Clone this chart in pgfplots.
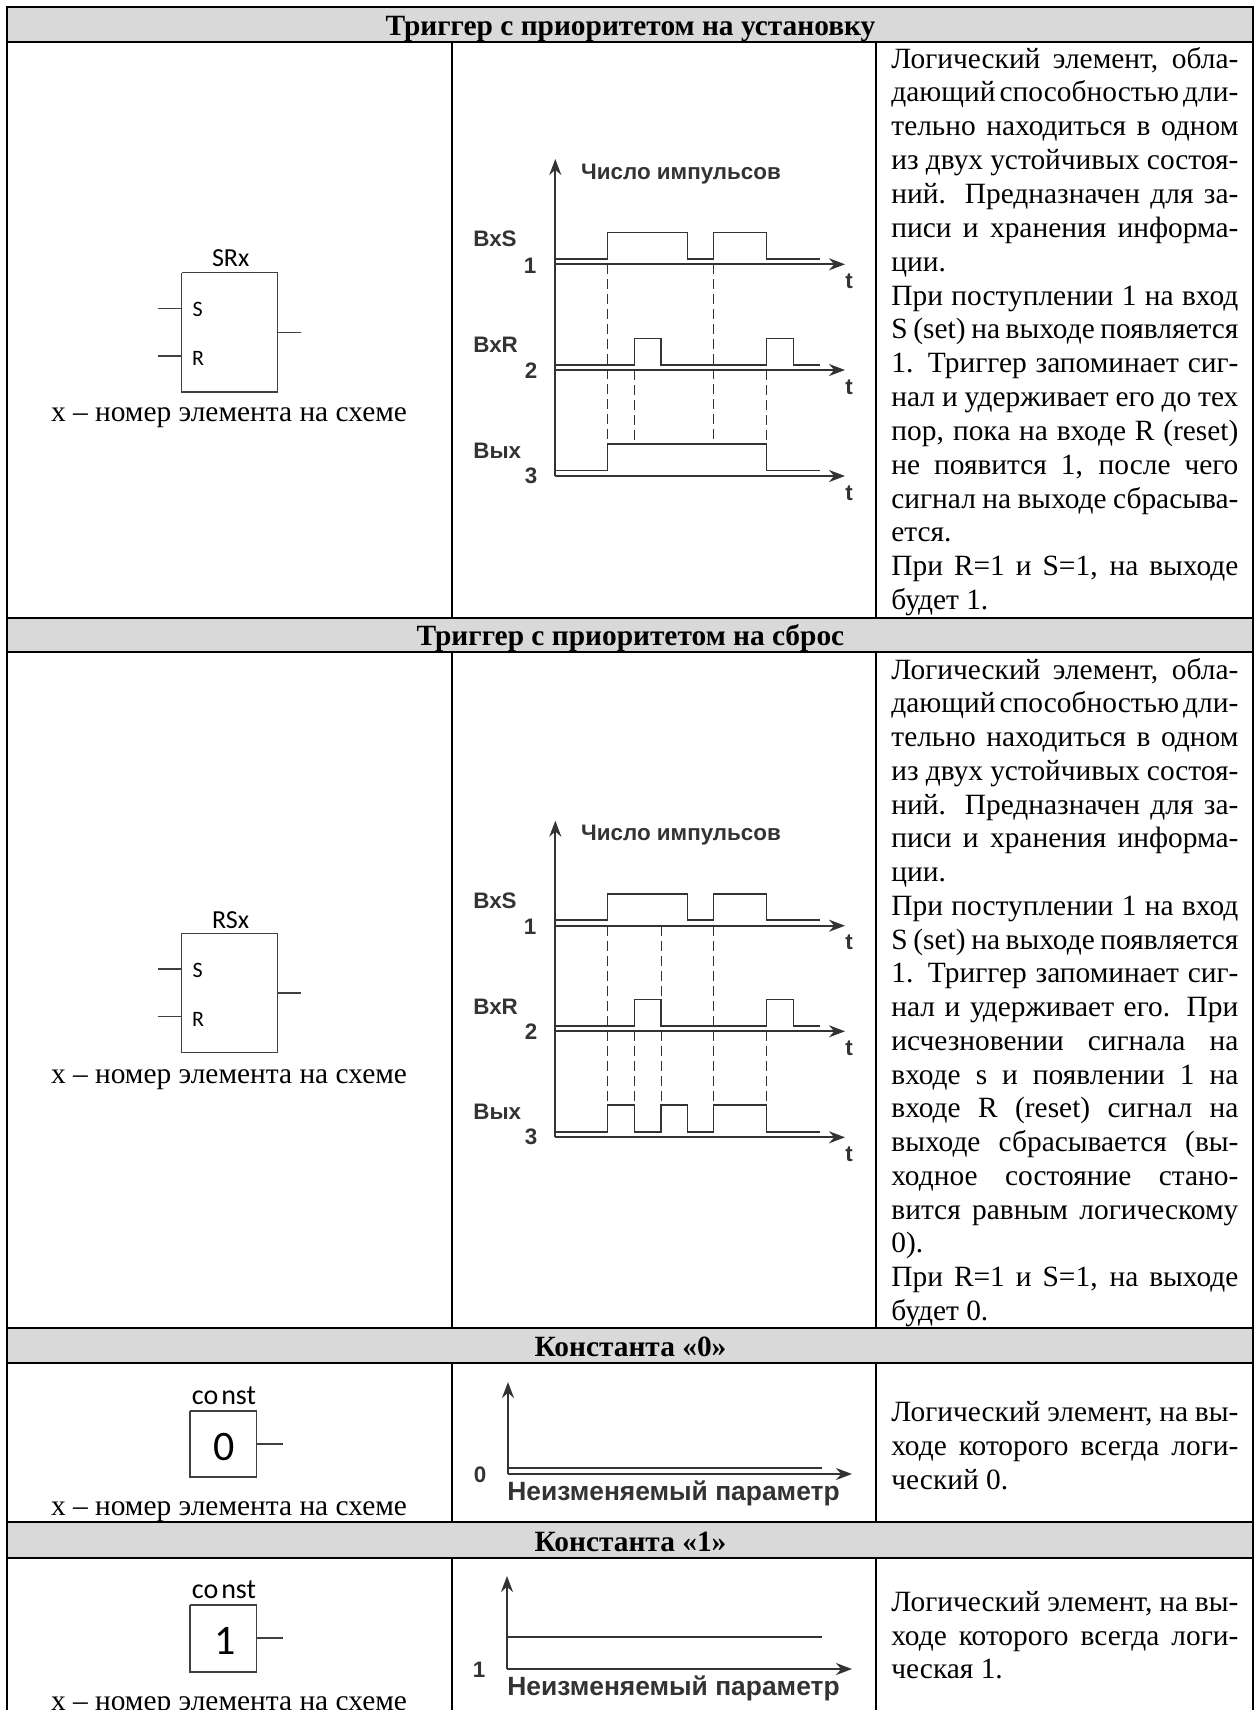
\documentclass[border=0pt]{standalone}
\usepackage{fontspec}
\setmainfont{Liberation Serif}
\newfontfamily\arialf{Liberation Sans}
\newfontfamily\calibrif{Carlito}
\usepackage{pgfplots}
\pgfplotsset{compat=1.18}
\usetikzlibrary{arrows.meta}
\definecolor{hdr}{HTML}{D9D9D9}
\definecolor{dia}{HTML}{333333}
\newcommand{\bodyf}{\fontsize{14.7pt}{16pt}\selectfont\spaceskip=0.25em plus 1fil minus 0.12em\relax}
\newcommand{\hdrf}{\fontsize{14.7pt}{16pt}\selectfont\bfseries}
\newcommand{\J}[2]{\node[anchor=base west,inner sep=0pt,font=\bodyf] at (axis cs:891,#1) {\makebox[173.5pt][s]{#2}};}
\newcommand{\Ln}[2]{\node[anchor=base west,inner sep=0pt,font=\bodyf] at (axis cs:891,#1) {#2};}
\newcommand{\Hd}[2]{\node[anchor=base,inner sep=0pt,font=\hdrf] at (axis cs:630.5,#1) {#2};}
\newcommand{\Ar}[4]{\node[anchor=#4,inner sep=0pt,text=dia,font=\fontsize{11.2pt}{13pt}\selectfont\arialf\bfseries] at (axis cs:#1,#2) {#3};}
\begin{document}
\begin{tikzpicture}
\begin{axis}[
  at={(0,0)}, anchor=south west,
  scale only axis, width=629.5pt, height=855pt,
  xmin=0, xmax=1259, ymin=0, ymax=1710, y dir=reverse,
  hide axis, clip=false,
  tbl/.style={black, line width=1.1pt, line cap=rect, no markers, forget plot},
  box/.style={color=black!75, line width=0.55pt, no markers, forget plot},
  sig/.style={color=dia, line width=0.7pt, no markers, forget plot, line join=miter},
  ax/.style={color=dia, line width=0.95pt, no markers, forget plot, -{Stealth[length=8pt,width=6pt]}},
  dsh/.style={color=dia, line width=0.35pt, no markers, forget plot, dash pattern=on 5pt off 2.5pt},
  hfill/.style={draw=none, fill=hdr, no markers, forget plot},
]
% header fills
\addplot[hfill] coordinates {(7,7) (1253,7) (1253,42) (7,42)} -- cycle;
\addplot[hfill] coordinates {(7,618) (1253,618) (1253,652) (7,652)} -- cycle;
\addplot[hfill] coordinates {(7,1328) (1253,1328) (1253,1363) (7,1363)} -- cycle;
\addplot[hfill] coordinates {(7,1522) (1253,1522) (1253,1558) (7,1558)} -- cycle;
% table rules
\addplot[tbl] coordinates {(7,7) (1253,7)};
\addplot[tbl] coordinates {(7,42) (1253,42)};
\addplot[tbl] coordinates {(7,618) (1253,618)};
\addplot[tbl] coordinates {(7,652) (1253,652)};
\addplot[tbl] coordinates {(7,1328) (1253,1328)};
\addplot[tbl] coordinates {(7,1363) (1253,1363)};
\addplot[tbl] coordinates {(7,1522) (1253,1522)};
\addplot[tbl] coordinates {(7,1558) (1253,1558)};
\addplot[tbl] coordinates {(7,7) (7,1712)};
\addplot[tbl] coordinates {(1253,7) (1253,1712)};
\addplot[tbl] coordinates {(452,42) (452,618)};
\addplot[tbl] coordinates {(876,42) (876,618)};
\addplot[tbl] coordinates {(452,652) (452,1328)};
\addplot[tbl] coordinates {(876,652) (876,1328)};
\addplot[tbl] coordinates {(452,1363) (452,1522)};
\addplot[tbl] coordinates {(876,1363) (876,1522)};
\addplot[tbl] coordinates {(452,1558) (452,1712)};
\addplot[tbl] coordinates {(876,1558) (876,1712)};
% SR block
\addplot[box] coordinates {(181.7,272.7) (277.3,272.7) (277.3,392) (181.7,392) (181.7,272.7)};
\addplot[box] coordinates {(158,308.3) (181.7,308.3)};
\addplot[box] coordinates {(158,356) (181.7,356)};
\addplot[box] coordinates {(277.3,332.3) (301,332.3)};
% RS block
\addplot[box] coordinates {(181.7,933.3) (277.3,933.3) (277.3,1052.3) (181.7,1052.3) (181.7,933.3)};
\addplot[box] coordinates {(158,969) (181.7,969)};
\addplot[box] coordinates {(158,1016.7) (181.7,1016.7)};
\addplot[box] coordinates {(277.3,993) (301,993)};
% const blocks
\addplot[box] coordinates {(190,1411) (256.5,1411) (256.5,1477) (190,1477) (190,1411)};
\addplot[box] coordinates {(256.5,1444) (283,1444)};
\addplot[box] coordinates {(190,1605) (256.5,1605) (256.5,1672) (190,1672) (190,1605)};
\addplot[box] coordinates {(256.5,1638) (283,1638)};
% timing diagram 1
\addplot[ax] coordinates {(555.3,476) (555.3,159)};
\addplot[ax] coordinates {(555.3,264.3) (845,264.3)};
\addplot[ax] coordinates {(555.3,370) (845,370)};
\addplot[ax] coordinates {(555.3,476) (845,476)};
\addplot[sig] coordinates {(555.3,259) (607.7,259) (607.7,232.7) (687.3,232.7) (687.3,259) (713.7,259) (713.7,232.7) (766.7,232.7) (766.7,259) (820,259)};
\addplot[sig] coordinates {(555.3,365) (634.3,365) (634.3,338.3) (661,338.3) (661,365) (766.7,365) (766.7,338.3) (793.3,338.3) (793.3,365) (820,365)};
\addplot[sig] coordinates {(555.3,470.7) (607.7,470.7) (607.7,444) (766.7,444) (766.7,470.7) (820,470.7)};
\addplot[dsh] coordinates {(607.7,264) (607.7,444)};
\addplot[dsh] coordinates {(634.3,370) (634.3,444)};
\addplot[dsh] coordinates {(713.7,264) (713.7,444)};
\addplot[dsh] coordinates {(766.7,370) (766.7,444)};
% timing diagram 2
\addplot[ax] coordinates {(555.3,1137.3) (555.3,820.7)};
\addplot[ax] coordinates {(555.3,925.7) (845,925.7)};
\addplot[ax] coordinates {(555.3,1031.3) (845,1031.3)};
\addplot[ax] coordinates {(555.3,1137.3) (845,1137.3)};
\addplot[sig] coordinates {(555.3,920) (607.7,920) (607.7,894) (687.3,894) (687.3,920) (713.7,920) (713.7,894) (766.7,894) (766.7,920) (820,920)};
\addplot[sig] coordinates {(555.3,1026) (634.3,1026) (634.3,999.3) (661,999.3) (661,1026) (766.7,1026) (766.7,999.3) (793.3,999.3) (793.3,1026) (820,1026)};
\addplot[sig] coordinates {(555.3,1132) (607.7,1132) (607.7,1105) (634.3,1105) (634.3,1132) (661,1132) (661,1105) (687.3,1105) (687.3,1132) (713.7,1132) (713.7,1105) (766.7,1105) (766.7,1132) (820,1132)};
\addplot[dsh] coordinates {(607.7,925.7) (607.7,1105)};
\addplot[dsh] coordinates {(634.3,1031.3) (634.3,1105)};
\addplot[dsh] coordinates {(661,925.7) (661,1105)};
\addplot[dsh] coordinates {(713.7,925.7) (713.7,1105)};
\addplot[dsh] coordinates {(766.7,1031.3) (766.7,1105)};
% constant diagrams
\addplot[ax] coordinates {(508,1474) (508,1382)};
\addplot[ax] coordinates {(508,1474) (852,1474)};
\addplot[sig] coordinates {(508,1468) (822,1468)};
\addplot[ax] coordinates {(507,1669) (507,1576)};
\addplot[ax] coordinates {(507,1669) (852,1669)};
\addplot[sig] coordinates {(507,1637) (822,1637)};
% headers
\Hd{35}{Триггер с приоритетом на установку}
\Hd{645}{Триггер с приоритетом на сброс}
\Hd{1356}{Константа «0»}
\Hd{1551}{Константа «1»}
% captions
\node[anchor=base,inner sep=0pt,font=\bodyf] at (axis cs:229,421) {x – номер элемента на схеме};
\node[anchor=base,inner sep=0pt,font=\bodyf] at (axis cs:229,1083) {x – номер элемента на схеме};
\node[anchor=base,inner sep=0pt,font=\bodyf] at (axis cs:229,1515) {x – номер элемента на схеме};
\node[anchor=base,inner sep=0pt,font=\bodyf] at (axis cs:229,1710) {x – номер элемента на схеме};
% block labels
\node[inner sep=0pt,font=\fontsize{13pt}{15pt}\selectfont\calibrif] at (axis cs:230.7,258) {SRx};
\node[inner sep=0pt,font=\fontsize{11pt}{13pt}\selectfont\calibrif] at (axis cs:197.7,309.3) {S};
\node[inner sep=0pt,font=\fontsize{11pt}{13pt}\selectfont\calibrif] at (axis cs:198,358) {R};
\node[inner sep=0pt,font=\fontsize{13pt}{15pt}\selectfont\calibrif] at (axis cs:230.7,920) {RSx};
\node[inner sep=0pt,font=\fontsize{11pt}{13pt}\selectfont\calibrif] at (axis cs:197.7,970) {S};
\node[inner sep=0pt,font=\fontsize{11pt}{13pt}\selectfont\calibrif] at (axis cs:198,1019.3) {R};
\node[inner sep=0pt,font=\fontsize{14pt}{16pt}\selectfont\calibrif] at (axis cs:224,1396) {co\hspace{1.5pt}nst};
\node[inner sep=0pt,font=\fontsize{14pt}{16pt}\selectfont\calibrif] at (axis cs:224,1590) {co\hspace{1.5pt}nst};
\node[inner sep=0pt,font=\fontsize{21pt}{23pt}\selectfont\calibrif] at (axis cs:224.5,1447) {0};
\node[inner sep=0pt,font=\fontsize{21pt}{23pt}\selectfont\calibrif] at (axis cs:225,1641) {1};
% diagram labels 1
\Ar{580.7}{174}{Число импульсов}{west}
\Ar{473}{239}{ВхS}{west}
\Ar{530}{266}{1}{center}
\Ar{473}{345}{ВхR}{west}
\Ar{531}{370.7}{2}{center}
\Ar{473}{451}{Вых}{west}
\Ar{531}{476}{3}{center}
\Ar{849}{281}{t}{center}
\Ar{849}{387}{t}{center}
\Ar{849}{493}{t}{center}
% diagram labels 2
\Ar{580.7}{835}{Число импульсов}{west}
\Ar{473}{900.7}{ВхS}{west}
\Ar{530}{927}{1}{center}
\Ar{473}{1006.7}{ВхR}{west}
\Ar{531}{1032}{2}{center}
\Ar{473}{1112}{Вых}{west}
\Ar{531}{1137}{3}{center}
\Ar{849}{942}{t}{center}
\Ar{849}{1048}{t}{center}
\Ar{849}{1154}{t}{center}
% constant labels
\node[inner sep=0pt,text=dia,font=\fontsize{13.2pt}{15pt}\selectfont\arialf\bfseries] at (axis cs:673.5,1493) {Неизменяемый параметр};
\node[inner sep=0pt,text=dia,font=\fontsize{13.2pt}{15pt}\selectfont\arialf\bfseries] at (axis cs:673.5,1688) {Неизменяемый параметр};
\Ar{480}{1475}{0}{center}
\Ar{479}{1670}{1}{center}
% text row 1
\J{68}{Логический элемент, обла-}
\J{101.9}{дающий способностью дли-}
\J{135.7}{тельно находиться в одном}
\J{169.6}{из двух устойчивых состоя-}
\J{203.4}{ний. Предназначен для за-}
\J{237.3}{писи и хранения информа-}
\Ln{271.1}{ции.}
\J{305}{При поступлении 1 на вход}
\J{338.8}{S (set) на выходе появляется}
\J{372.7}{1. Триггер запоминает сиг-}
\J{406.5}{нал и удерживает его до тех}
\J{440.4}{пор, пока на входе R (reset)}
\J{474.2}{не появится 1, после чего}
\J{508.1}{сигнал на выходе сбрасыва-}
\Ln{541.9}{ется.}
\J{575.8}{При R=1 и S=1, на выходе}
\Ln{609.6}{будет 1.}
% text row 2
\J{679}{Логический элемент, обла-}
\J{712.8}{дающий способностью дли-}
\J{746.5}{тельно находиться в одном}
\J{780.3}{из двух устойчивых состоя-}
\J{814}{ний. Предназначен для за-}
\J{847.8}{писи и хранения информа-}
\Ln{881.5}{ции.}
\J{915.3}{При поступлении 1 на вход}
\J{949}{S (set) на выходе появляется}
\J{982.8}{1. Триггер запоминает сиг-}
\J{1016.5}{нал и удерживает его. При}
\J{1050.3}{исчезновении сигнала на}
\J{1084}{входе s и появлении 1 на}
\J{1117.8}{входе R (reset) сигнал на}
\J{1151.5}{выходе сбрасывается (вы-}
\J{1185.3}{ходное состояние стано-}
\J{1219}{вится равным логическому}
\Ln{1252.8}{0).}
\J{1286.5}{При R=1 и S=1, на выходе}
\Ln{1320.2}{будет 0.}
% text const
\J{1421}{Логический элемент, на вы-}
\J{1455}{ходе которого всегда логи-}
\Ln{1489}{ческий 0.}
\J{1611}{Логический элемент, на вы-}
\J{1645}{ходе которого всегда логи-}
\Ln{1678}{ческая 1.}
\end{axis}
\pgfresetboundingbox
\useasboundingbox (0,0) rectangle (629.5pt,855pt);
\end{tikzpicture}
\end{document}
